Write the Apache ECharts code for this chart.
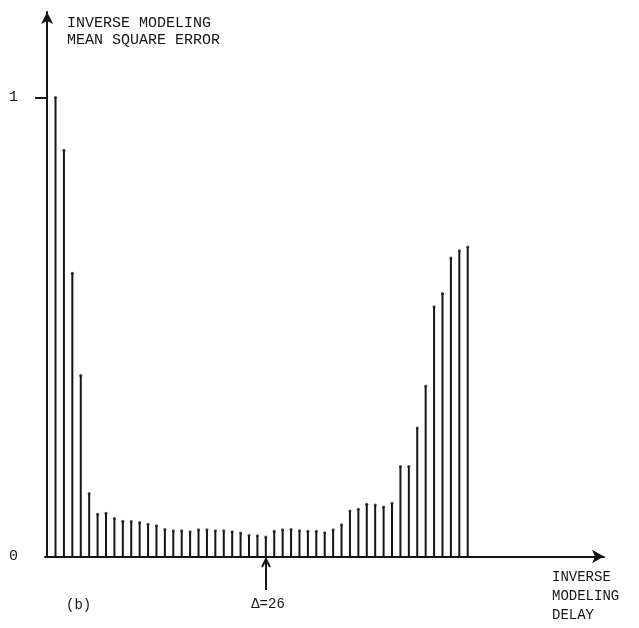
<!DOCTYPE html>
<html>
<head>
<meta charset="utf-8">
<script src="https://cdn.jsdelivr.net/npm/echarts@6/dist/echarts.min.js"></script>
<style>html,body{margin:0;padding:0;background:#fff;}#c{width:639px;height:628px;}</style>
</head>
<body>
<div id="c"></div>
<script>
var delays = [];
for (var i = 1; i <= 50; i++) delays.push(i);
var mse = [1.0, 0.885, 0.617, 0.394, 0.137, 0.092, 0.094, 0.083, 0.077, 0.076,
           0.074, 0.070, 0.067, 0.059, 0.056, 0.056, 0.054, 0.058, 0.058, 0.056,
           0.056, 0.054, 0.051, 0.046, 0.045, 0.0425, 0.055, 0.058, 0.059, 0.056,
           0.055, 0.055, 0.052, 0.058, 0.069, 0.099, 0.103, 0.114, 0.112, 0.108,
           0.116, 0.196, 0.196, 0.280, 0.371, 0.544, 0.573, 0.650, 0.666, 0.674];
var yTickValues = [1];
var yLabelValues = [0, 1];
var markedDelay = 26;

var FONT = '"Liberation Mono", "DejaVu Sans Mono", monospace';
var INK = '#151515';
var pts = delays.map(function (d, i) { return [d, mse[i]]; });

var chart = echarts.init(document.getElementById('c'), null, {renderer: 'canvas'});
chart.setOption({
  animation: false,
  backgroundColor: '#fff',
  grid: {left: 45, right: 35, top: 12, bottom: 71.5},
  xAxis: {
    type: 'value', min: -0.25, max: 66.2,
    axisLine: {show: true, symbol: ['none', 'arrow'], symbolSize: [10, 12], lineStyle: {color: INK, width: 2}},
    axisTick: {show: false}, axisLabel: {show: false}, splitLine: {show: false}
  },
  yAxis: {
    type: 'value', min: 0, max: 1.186,
    axisLine: {show: true, symbol: ['none', 'arrow'], symbolSize: [9, 12], lineStyle: {color: INK, width: 2}},
    axisTick: {show: true, customValues: yTickValues, length: 12, lineStyle: {color: INK, width: 2}},
    axisLabel: {show: true, customValues: yLabelValues, margin: 27, color: INK, fontFamily: FONT, fontSize: 15},
    splitLine: {show: false}
  },
  series: [
    {type: 'bar', data: pts, barWidth: 2, itemStyle: {color: INK}, silent: true},
    {type: 'scatter', data: pts, symbolSize: 3, itemStyle: {color: INK}, silent: true}
  ]
});

var p = chart.convertToPixel({gridIndex: 0}, [markedDelay, 0]);
var ax = Math.round(p[0]);
chart.setOption({
  graphic: [
    {type: 'text', left: 67, top: 15, style: {text: 'INVERSE MODELING\nMEAN SQUARE ERROR', font: '15px ' + FONT, fill: INK, lineHeight: 17}},
    {type: 'text', left: 552, top: 568, style: {text: 'INVERSE\nMODELING\nDELAY', font: '14px ' + FONT, fill: INK, lineHeight: 19}},
    {type: 'text', left: 66, top: 598, style: {text: '(b)', font: '14px ' + FONT, fill: INK}},
    {type: 'text', x: ax + 2, y: 597, style: {text: 'Δ=26', font: '14px ' + FONT, fill: INK, textAlign: 'center'}},
    {type: 'line', shape: {x1: ax, y1: 590, x2: ax, y2: 560}, style: {stroke: INK, lineWidth: 2}},
    {type: 'polyline', shape: {points: [[ax - 4, 567], [ax, 559], [ax + 4, 567]]}, style: {stroke: INK, lineWidth: 2, fill: null}}
  ]
});
</script>
</body>
</html>
